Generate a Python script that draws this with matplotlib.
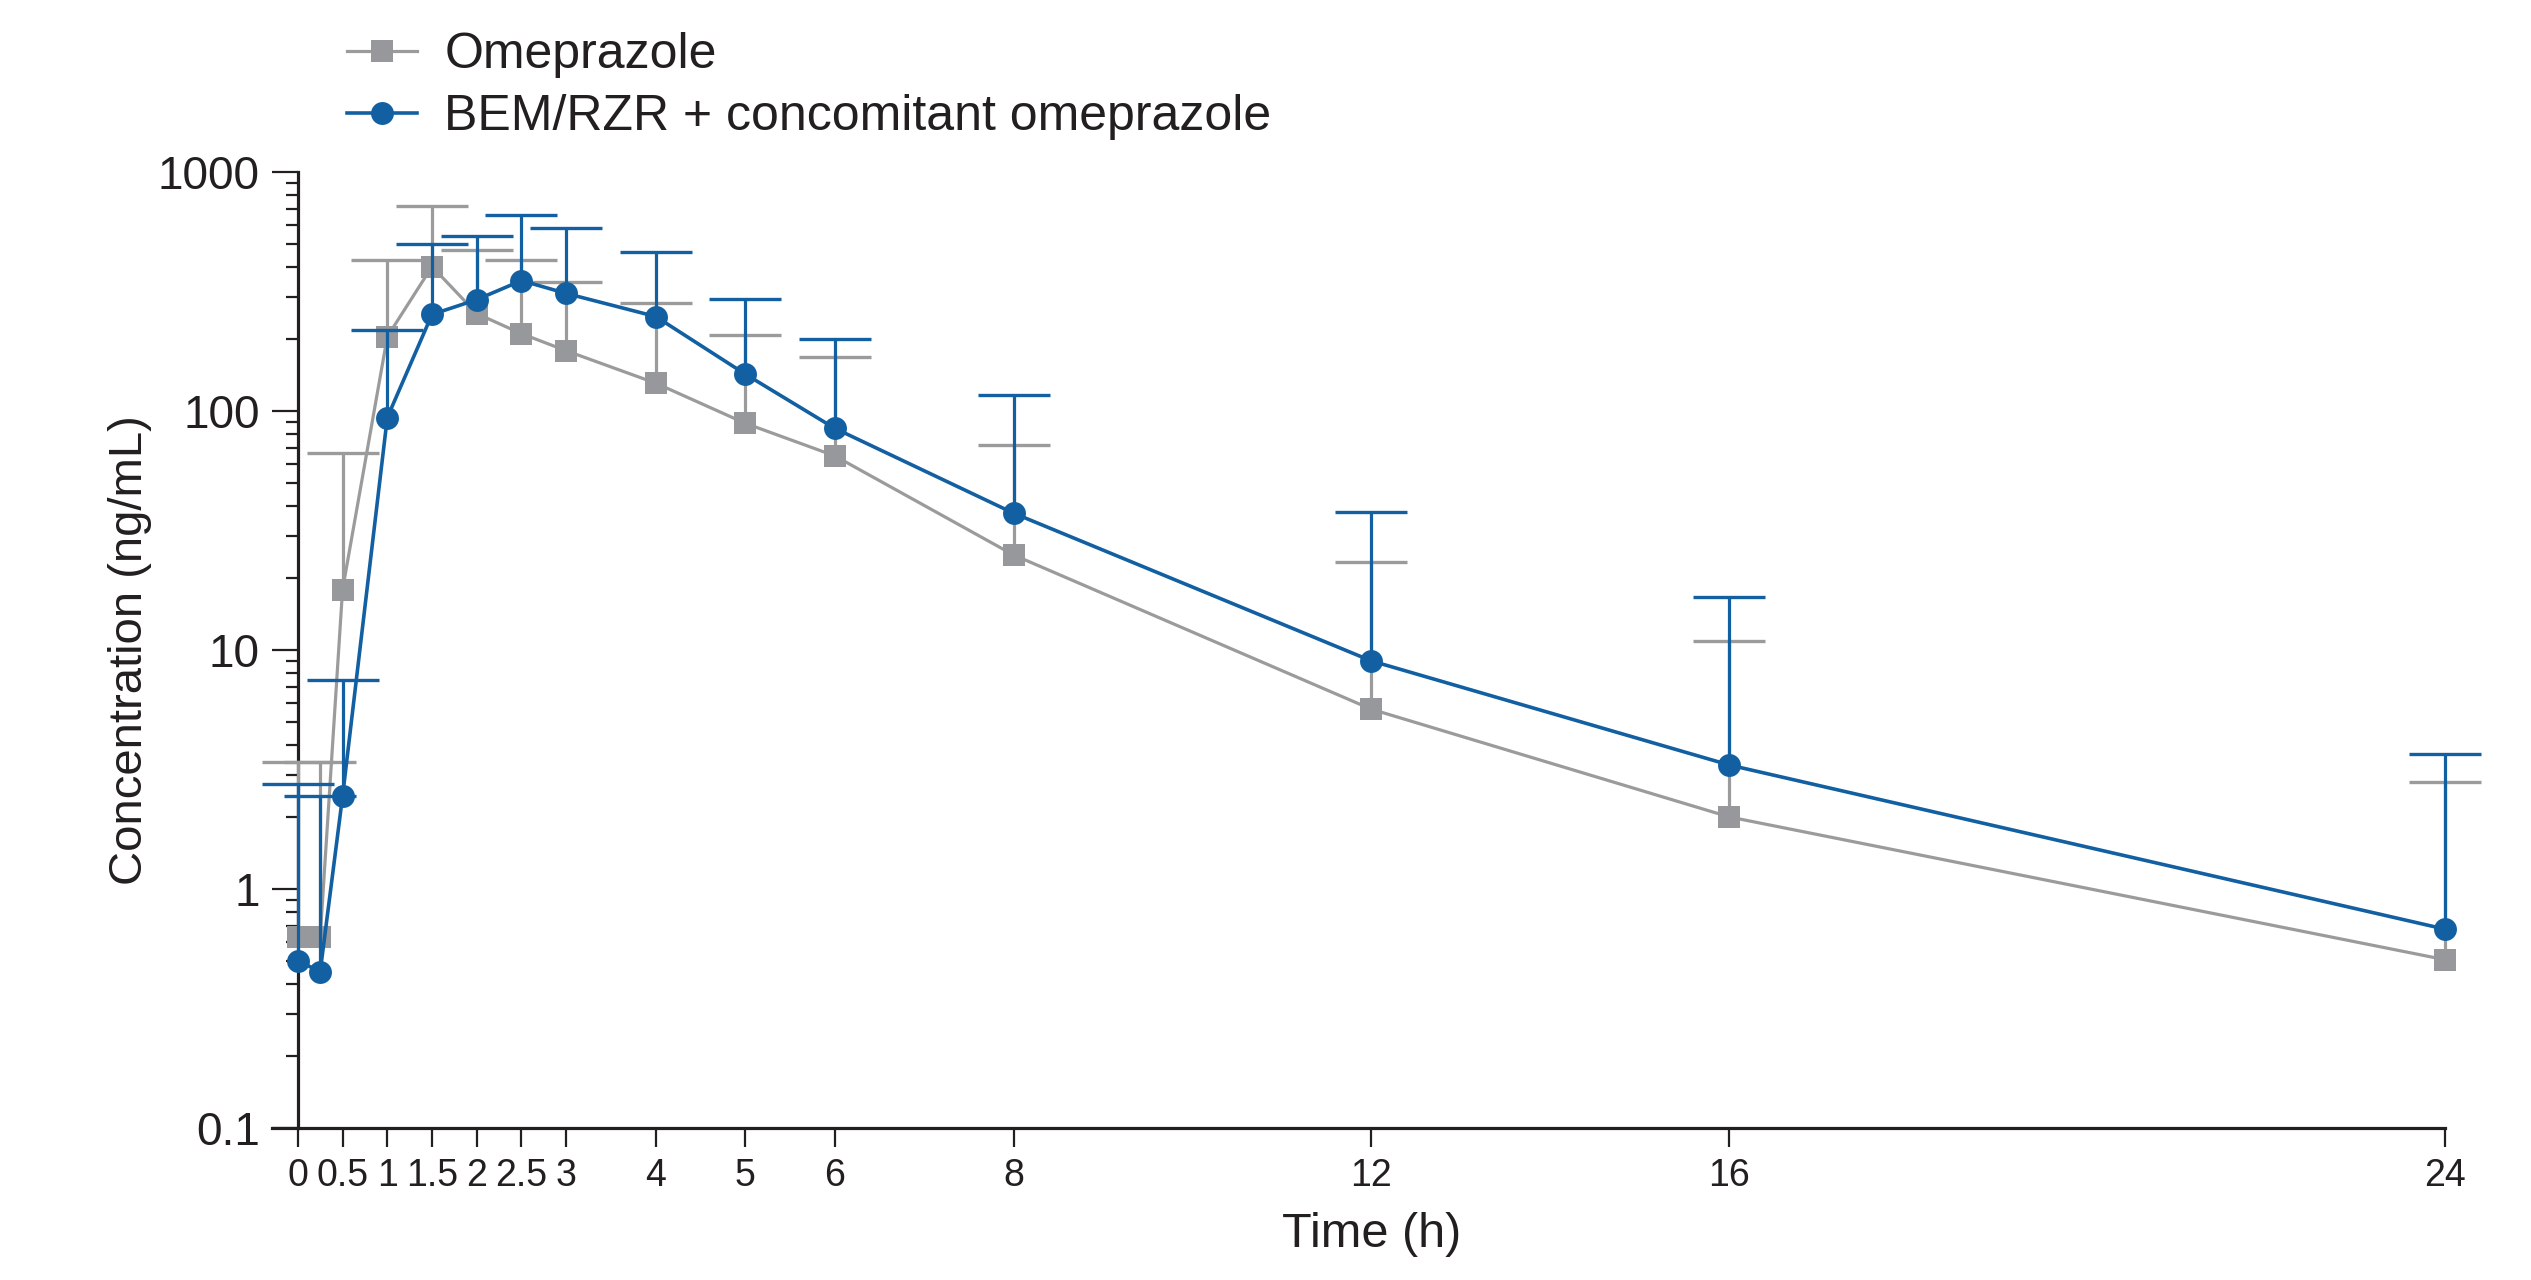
import matplotlib
matplotlib.use("Agg")
import matplotlib.pyplot as plt
import numpy as np
from matplotlib.ticker import LogLocator, NullFormatter, FixedLocator

plt.rcParams['font.family'] = ['Liberation Sans', 'DejaVu Sans']

# Data
time_h = [0, 0.25, 0.5, 1, 1.5, 2, 2.5, 3, 4, 5, 6, 8, 12, 16, 24]
omep_mean = [0.63, 0.63, 17.9, 205, 403, 256, 211, 179, 131, 89, 65, 25.0, 5.65, 2.0, 0.505]
omep_upper = [3.41, 3.41, 67, 428, 722, 473, 431, 346, 284, 208, 169, 72.4, 23.4, 10.9, 2.79]
bem_mean = [0.50, 0.45, 2.44, 94, 254, 293, 352, 311, 249, 143, 84.8, 37.4, 9.0, 3.30, 0.678]
bem_upper = [2.75, 2.44, 7.5, 219, 503, 541, 662, 582, 462, 295, 200, 117, 37.7, 16.6, 3.68]

xtick_vals = [0, 0.5, 1, 1.5, 2, 2.5, 3, 4, 5, 6, 8, 12, 16, 24]
xtick_labels = ["0", "0.5", "1", "1.5", "2", "2.5", "3", "4", "5", "6", "8", "12", "16", "24"]
ytick_vals = [0.1, 1, 10, 100, 1000]
ytick_labels = ["0.1", "1", "10", "100", "1000"]

labels = ["Omeprazole", "BEM/RZR + concomitant omeprazole"]

GRAY = "#97989b"
GRAY_LINE = "#9b9b9b"
BLUE = "#1260a2"

fig = plt.figure(figsize=(25.31, 12.8), dpi=100)
ax = fig.add_axes([0.1076, 0.119, 0.8584, 0.7464])

def draw(x, m, u, color, lcolor, marker, label, z, lw):
    m = np.array(m); u = np.array(u)
    yerr = np.vstack([np.zeros_like(m), u - m])
    eb = ax.errorbar(x, m, yerr=yerr, fmt='none', ecolor=lcolor, elinewidth=2.3,
                     capsize=0, zorder=z)
    for art in eb.lines[2]:
        art.set_clip_on(False)
    # upper caps only
    ax.plot(x, u, ls='none', marker='_', ms=52, mew=2.4, color=lcolor,
            zorder=z, clip_on=False)
    ax.plot(x, m, color=lcolor, lw=lw, marker=marker, ms=16.5,
            mfc=color, mec=color, mew=0, label=label, zorder=z + 0.5,
            clip_on=False)

draw(time_h, omep_mean, omep_upper, GRAY, GRAY_LINE, 's', labels[0], 2, 2.3)
draw(time_h, bem_mean, bem_upper, BLUE, BLUE, 'o', labels[1], 4, 2.6)

ax.set_yscale('log')
ax.set_ylim(0.1, 1000)
ax.set_xlim(-0.285, 24)

ax.spines['top'].set_visible(False)
ax.spines['right'].set_visible(False)
ax.spines['left'].set_position(('data', 0))
for s in ['left', 'bottom']:
    ax.spines[s].set_linewidth(2.3)
    ax.spines[s].set_color('#231f20')
    ax.spines[s].set_zorder(1)

ax.xaxis.set_major_locator(FixedLocator(xtick_vals))
ax.set_xticklabels(xtick_labels)
ax.yaxis.set_major_locator(FixedLocator(ytick_vals))
ax.set_yticklabels(ytick_labels)
ax.yaxis.set_minor_locator(LogLocator(base=10, subs=np.arange(2, 10)))
ax.yaxis.set_minor_formatter(NullFormatter())

ax.tick_params(axis='x', which='major', length=14, width=1.6, labelsize=27,
               pad=8, color='#231f20', labelcolor='#231f20')
ax.tick_params(axis='y', which='major', length=18.5, width=1.6, labelsize=33,
               pad=9, color='#231f20', labelcolor='#231f20')
ax.tick_params(axis='y', which='minor', length=9, width=1.6, color='#231f20')

ax.set_ylabel("Concentration (ng/mL)", fontsize=34, color='#231f20')
ax.yaxis.set_label_coords(-0.0555, 0.5)
ax.set_xlabel("Time (h)", fontsize=35, color='#231f20')
ax.xaxis.set_label_coords(0.506, -0.088)

handles, labs = ax.get_legend_handles_labels()
fig.legend(handles, labs, loc='center left', bbox_to_anchor=(0.137, 0.9325),
           frameon=False, fontsize=36, borderpad=0, borderaxespad=0,
           handlelength=1.4, handletextpad=0.55, labelspacing=0.32,
           labelcolor='#231f20')

fig.savefig("out.png", dpi=100)
